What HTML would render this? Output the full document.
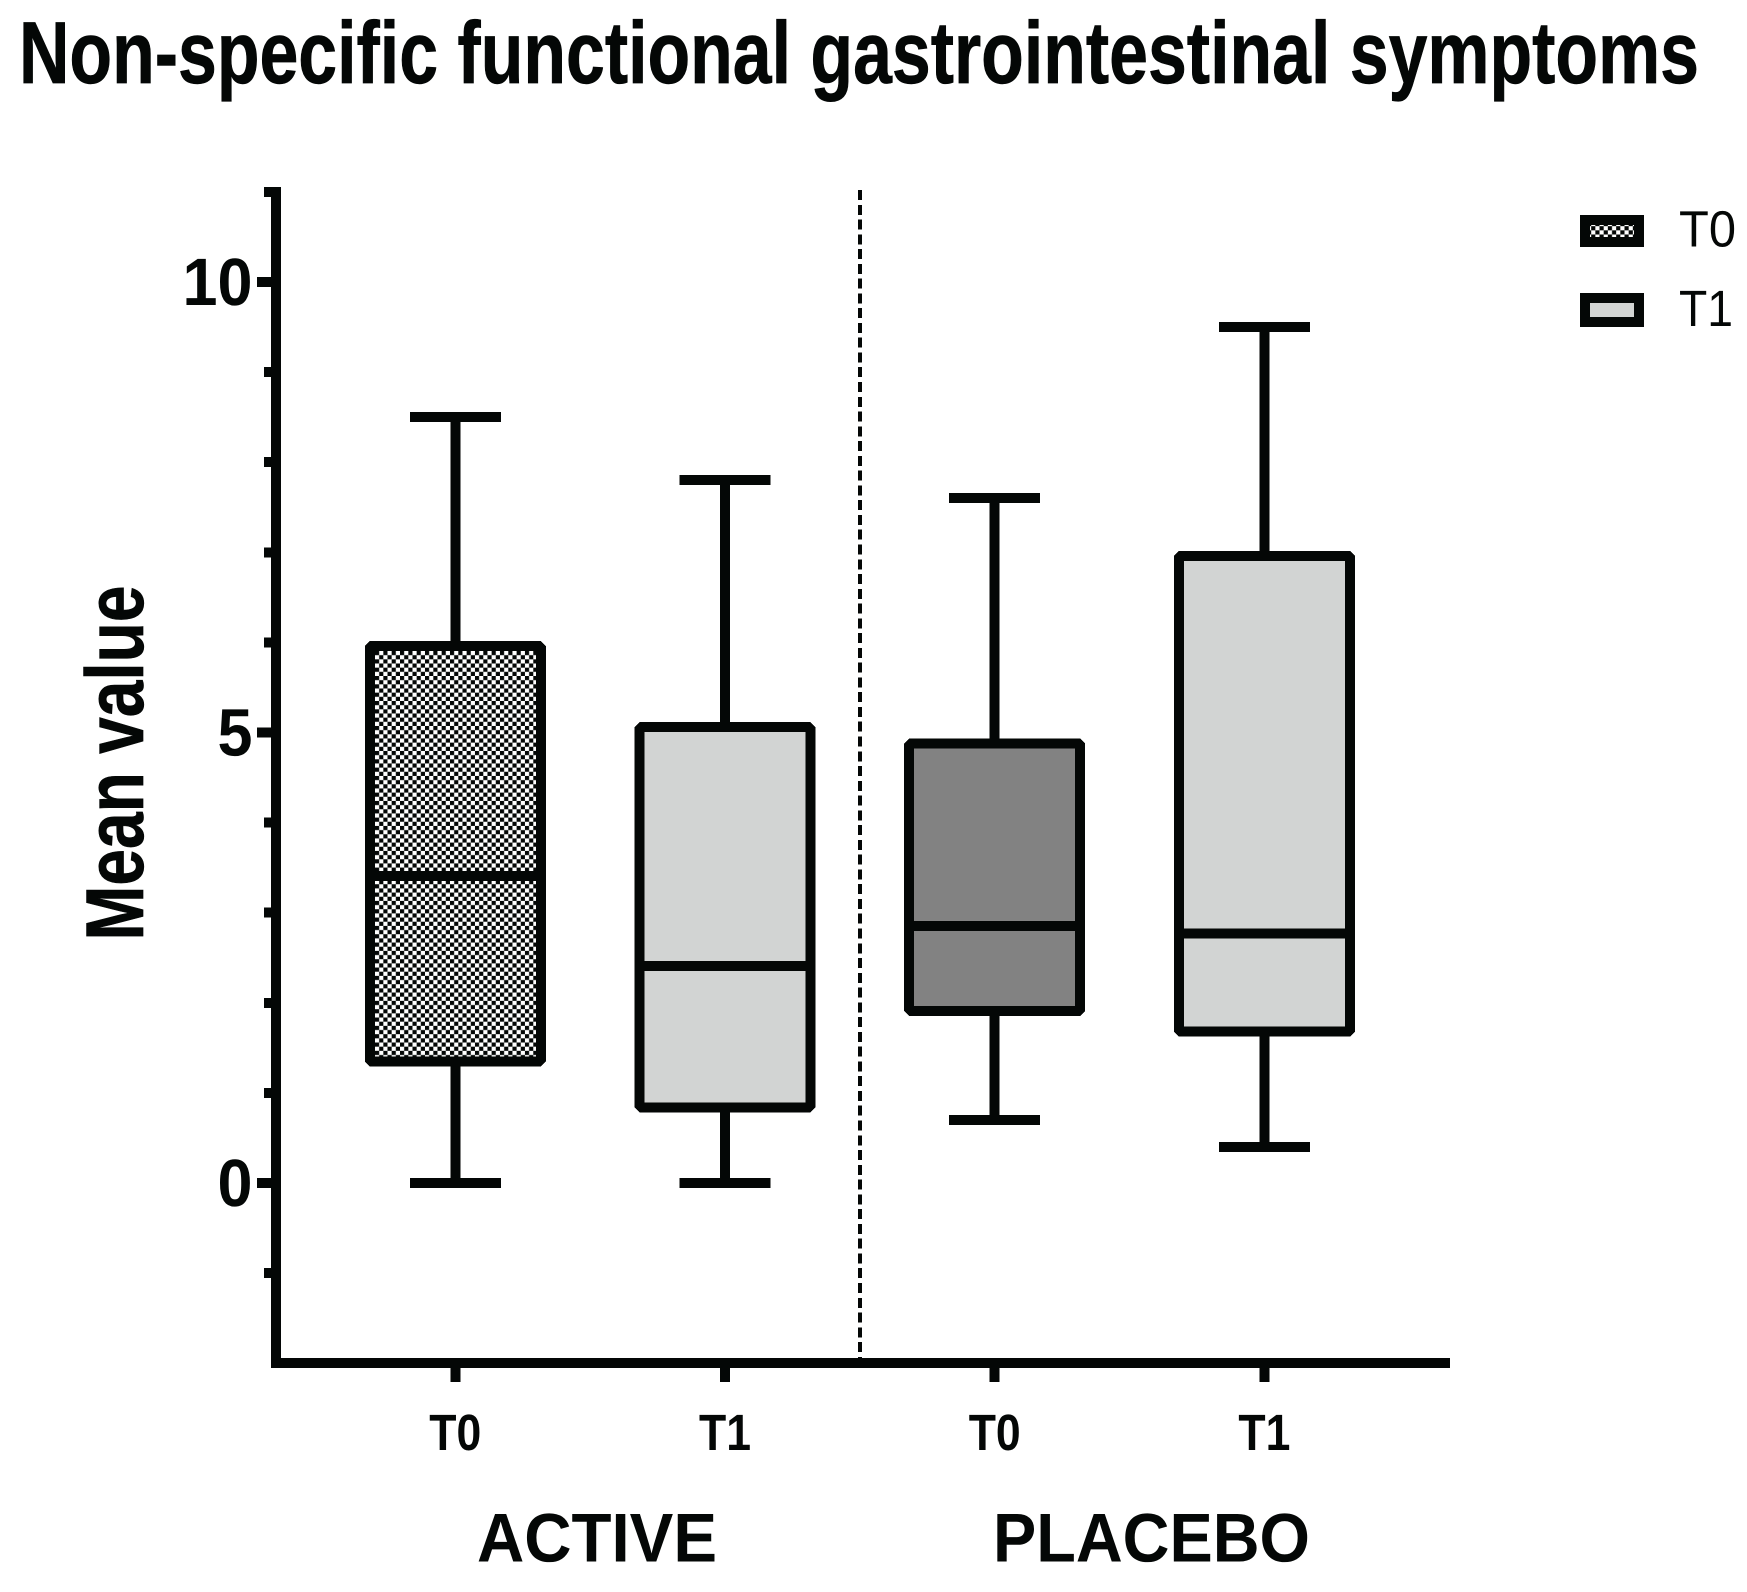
<!DOCTYPE html>
<html lang="en">
<head>
<meta charset="utf-8">
<title>Non-specific functional gastrointestinal symptoms</title>
<style>
  html, body { margin: 0; padding: 0; background: #ffffff; }
  body { width: 1747px; height: 1592px; overflow: hidden; }
  svg { display: block; }
  text { font-family: "Liberation Sans", Arial, sans-serif; fill: #040706; text-rendering: geometricPrecision; }
  .bold { font-weight: 700; }
  .heavy { stroke: #040706; stroke-width: 0.7px; }
</style>
</head>
<body>
<svg id="chart" xmlns="http://www.w3.org/2000/svg" width="1747" height="1592" viewBox="0 0 1747 1592">
  <defs>
    <pattern id="checker" patternUnits="userSpaceOnUse" x="375" y="651" width="8.33" height="8.33">
      <rect width="8.33" height="8.33" fill="#ffffff"></rect>
      <rect x="0" y="0" width="4.165" height="4.165" fill="#040706"></rect>
      <rect x="4.165" y="4.165" width="4.165" height="4.165" fill="#040706"></rect>
    </pattern>
  </defs>
  <text class="bold heavy" x="19" y="83" font-size="88" textLength="1680" lengthAdjust="spacingAndGlyphs">Non-specific functional gastrointestinal symptoms</text>
  <text class="bold heavy" transform="translate(143 940.5) rotate(-90)" x="0" y="0" font-size="82" textLength="355" lengthAdjust="spacingAndGlyphs">Mean value</text>
  <text class="bold" x="477" y="1561.5" font-size="69" textLength="240" lengthAdjust="spacingAndGlyphs">ACTIVE</text>
  <text class="bold" x="993" y="1561.5" font-size="69" textLength="317" lengthAdjust="spacingAndGlyphs">PLACEBO</text>

  <g>
    <g>
      <rect x="1585" y="220" width="54" height="22" fill="url(#checker)" stroke="#040706" stroke-width="10" shape-rendering="crispEdges"></rect>
      <text x="1679" y="246.5" font-size="51" textLength="57" lengthAdjust="spacingAndGlyphs">T0</text>
    </g>
    <g>
      <rect x="1585" y="298" width="54" height="24" fill="#d2d4d3" stroke="#040706" stroke-width="10" shape-rendering="crispEdges"></rect>
      <text x="1679" y="326" font-size="51" textLength="54" lengthAdjust="spacingAndGlyphs">T1</text>
    </g>
  </g>
</svg>
<script>
const categories = ["T0", "T1", "T0", "T1"];
const groups = ["active", "active", "placebo", "placebo"];
const whiskerLow = [0, 0, 0.70, 0.40];
const boxQ1 = [1.35, 0.84, 1.91, 1.68];
const boxMedian = [3.41, 2.41, 2.85, 2.77];
const boxQ3 = [5.96, 5.06, 4.88, 6.96];
const whiskerHigh = [8.50, 7.80, 7.60, 9.50];
const boxFills = ["url(#checker)", "#d2d4d3", "#828282", "#d2d4d3"];
const majorTickValues = [0, 5, 10];
const majorTickLabels = ["0", "5", "10"];
const minorTickValues = [-1, 1, 2, 3, 4, 6, 7, 8, 9, 11];
const separatorPosition = 1.5;

const INK = "#040706";
const SVG_NS = "http://www.w3.org/2000/svg";
const chart = document.getElementById("chart");

function yScale(v) { return 1183 - 90.1 * v; }
function xScale(i) { return 455.3 + 269.7 * i; }

function line(x1, y1, x2, y2, width) {
  const el = document.createElementNS(SVG_NS, "line");
  el.setAttribute("x1", x1);
  el.setAttribute("y1", y1);
  el.setAttribute("x2", x2);
  el.setAttribute("y2", y2);
  el.setAttribute("stroke", INK);
  el.setAttribute("stroke-width", width);
  el.setAttribute("shape-rendering", "crispEdges");
  chart.appendChild(el);
  return el;
}

const separator = line(xScale(separatorPosition), 190, xScale(separatorPosition), 1358, 4);
separator.setAttribute("stroke-dasharray", "10 4.77");



const yAxis = line(276, yScale(11) - 5, 276, yScale(-2) + 5, 10);



const xAxis = line(271, yScale(-2), 1450, yScale(-2), 10);



majorTickValues.forEach(function (v, i) {
  const tick = line(257, yScale(v), 271, yScale(v), 10);
  
  
  const label = document.createElementNS(SVG_NS, "text");
  
  
  label.setAttribute("class", "bold");
  label.setAttribute("x", 252.5);
  label.setAttribute("y", yScale(v) + 23);
  label.setAttribute("font-size", 67);
  label.setAttribute("text-anchor", "end");
  label.setAttribute("textLength", 35 * majorTickLabels[i].length);
  label.setAttribute("lengthAdjust", "spacingAndGlyphs");
  label.textContent = majorTickLabels[i];
  chart.appendChild(label);
});

minorTickValues.forEach(function (v) {
  const tick = line(264, yScale(v), 271, yScale(v), 10);
  
  
});

categories.forEach(function (cat, i) {
  const cx = xScale(i);
  const g = document.createElementNS(SVG_NS, "g");
  
  
  chart.appendChild(g);

  const yTop = yScale(boxQ3[i]);
  const yBot = yScale(boxQ1[i]);
  const yMed = yScale(boxMedian[i]);
  const yHi = yScale(whiskerHigh[i]);
  const yLo = yScale(whiskerLow[i]);

  const upper = line(cx, yHi, cx, yTop, 10);
  
  
  g.appendChild(upper);

  const lower = line(cx, yBot, cx, yLo, 10);
  
  
  g.appendChild(lower);

  const capHi = line(cx - 45.5, yHi, cx + 45.5, yHi, 10);
  
  
  g.appendChild(capHi);

  const capLo = line(cx - 45.5, yLo, cx + 45.5, yLo, 10);
  
  
  g.appendChild(capLo);

  const box = document.createElementNS(SVG_NS, "rect");
  
  
  box.setAttribute("x", cx - 85.5);
  box.setAttribute("y", yTop);
  box.setAttribute("width", 171);
  box.setAttribute("height", yBot - yTop);
  box.setAttribute("fill", boxFills[i]);
  box.setAttribute("stroke", INK);
  box.setAttribute("stroke-width", 10);
  box.setAttribute("stroke-linejoin", "bevel");
  box.setAttribute("shape-rendering", "crispEdges");
  g.appendChild(box);

  const median = line(cx - 85.5, yMed, cx + 85.5, yMed, 10);
  
  
  g.appendChild(median);

  const tick = line(cx, 1368, cx, 1382, 10);
  
  

  const label = document.createElementNS(SVG_NS, "text");
  
  
  label.setAttribute("class", "bold");
  label.setAttribute("x", cx);
  label.setAttribute("y", 1450);
  label.setAttribute("font-size", 51);
  label.setAttribute("text-anchor", "middle");
  label.setAttribute("textLength", 52);
  label.setAttribute("lengthAdjust", "spacingAndGlyphs");
  label.textContent = cat;
  chart.appendChild(label);
});
</script>
</body>
</html>
